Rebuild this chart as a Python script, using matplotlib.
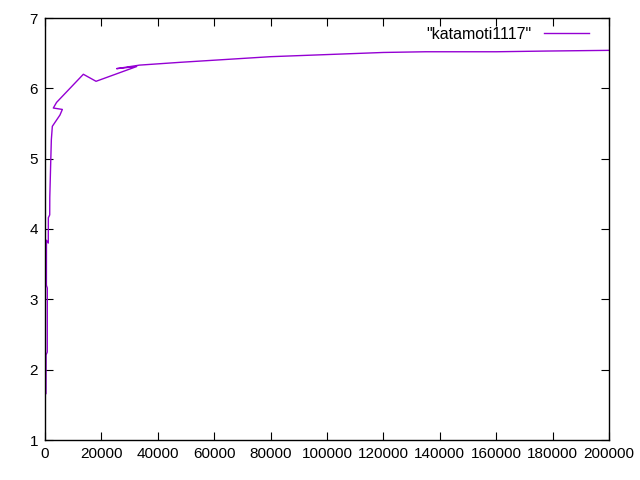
import matplotlib
matplotlib.use('Agg')
import matplotlib.pyplot as plt

plt.rcParams['font.family'] = ['Liberation Sans', 'DejaVu Sans']

# values
xs = [350, 380, 800, 820, 500, 520, 1170, 1190, 1670, 1700, 2000, 2250, 2600, 5300, 6150,
      2950, 4100, 13600, 18100, 32500, 25400, 33500, 48000, 60000,
      80000, 100000, 120000, 135000, 160000, 177600, 200000]
ys = [1.66, 2.21, 2.25, 3.16, 3.20, 3.84, 3.80, 4.16, 4.20, 4.45, 4.91, 5.27, 5.46, 5.62, 5.70,
      5.72, 5.80, 6.20, 6.10, 6.31, 6.28, 6.33, 6.37, 6.40,
      6.45, 6.48, 6.51, 6.52, 6.52, 6.53, 6.54]
series_name = '"katamoti1117"'
xticks = list(range(0, 200001, 20000))
yticks = [1, 2, 3, 4, 5, 6, 7]

fig = plt.figure(figsize=(6.4, 4.8), dpi=100)
ax = fig.add_axes([45 / 640, 1 - 440 / 480, 564 / 640, 422 / 480])

ax.plot(xs, ys, color='#9400d3', lw=1, label=series_name)

ax.set_xlim(0, 200000)
ax.set_ylim(1, 7)
ax.set_xticks(xticks)
ax.set_yticks(yticks)
ax.tick_params(direction='in', top=True, right=True, labelsize=11, length=6, pad=5)
for s in ax.spines.values():
    s.set_linewidth(1)

ax.legend(loc='upper right', bbox_to_anchor=(0.976, 0.994), frameon=False,
          markerfirst=False, fontsize=11.5, handlelength=2.8,
          borderaxespad=0, handletextpad=0.8)

fig.savefig('out.png', dpi=100)
